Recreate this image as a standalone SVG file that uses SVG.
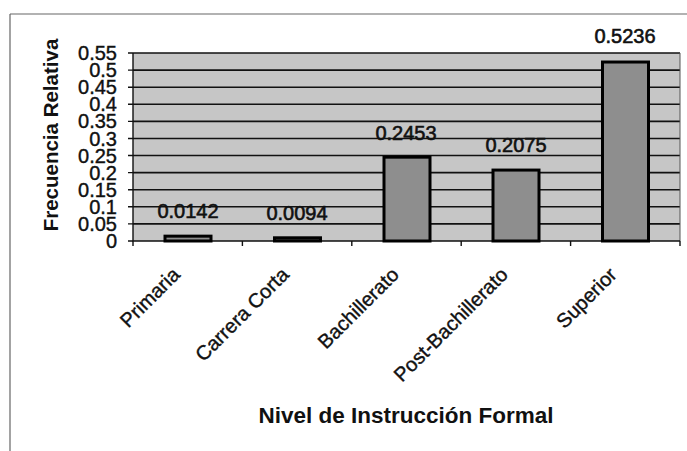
<svg xmlns="http://www.w3.org/2000/svg" width="687" height="451" viewBox="0 0 687 451">
<style>
.t{font-family:"Liberation Sans",Arial,sans-serif;fill:#111;}
.tick{font-size:20px;text-anchor:end;stroke:#111;stroke-width:0.4;}
.dl{font-size:20px;text-anchor:middle;stroke:#111;stroke-width:0.6;}
.cat{font-size:20px;text-anchor:end;stroke:#111;stroke-width:0.4;}
.ttl{font-weight:bold;text-anchor:middle;}
.grid{stroke:#111;stroke-width:1.6;}
.bar{fill:#8e8e8e;stroke:#000;stroke-width:3;}
.frame{stroke:#666;stroke-width:1.2;fill:none;}
</style>
<rect width="687" height="451" fill="#fff"/>
<g id="frame"><path class="frame" d="M10,14 H687 M10,14 V451"/></g>
<g id="plot">
<rect x="133" y="53" width="547" height="188" fill="#c6c6c6"/>
<g class="grid">
<line x1="133" y1="53" x2="680" y2="53"/>
<line x1="133" y1="70.09" x2="680" y2="70.09"/>
<line x1="133" y1="87.18" x2="680" y2="87.18"/>
<line x1="133" y1="104.27" x2="680" y2="104.27"/>
<line x1="133" y1="121.36" x2="680" y2="121.36"/>
<line x1="133" y1="138.45" x2="680" y2="138.45"/>
<line x1="133" y1="155.55" x2="680" y2="155.55"/>
<line x1="133" y1="172.64" x2="680" y2="172.64"/>
<line x1="133" y1="189.73" x2="680" y2="189.73"/>
<line x1="133" y1="206.82" x2="680" y2="206.82"/>
<line x1="133" y1="223.91" x2="680" y2="223.91"/>
</g>
<path d="M680,53 V241" stroke="#555" stroke-width="1" fill="none"/>
</g>
<g id="axes" stroke="#111" stroke-width="1.4" fill="none">
<path d="M133,53 V241 H680"/>
<path d="M128,53 H133 M128,70.09 H133 M128,87.18 H133 M128,104.27 H133 M128,121.36 H133 M128,138.45 H133 M128,155.55 H133 M128,172.64 H133 M128,189.73 H133 M128,206.82 H133 M128,223.91 H133 M128,241 H133"/>
<path d="M133,241 V246 M242.4,241 V246 M351.8,241 V246 M461.2,241 V246 M570.6,241 V246 M680,241 V246"/>
</g>
<g id="y-labels" class="t tick">
<text x="117" y="60">0.55</text>
<text x="117" y="77.1">0.5</text>
<text x="117" y="94.2">0.45</text>
<text x="117" y="111.3">0.4</text>
<text x="117" y="128.4">0.35</text>
<text x="117" y="145.5">0.3</text>
<text x="117" y="162.5">0.25</text>
<text x="117" y="179.6">0.2</text>
<text x="117" y="196.7">0.15</text>
<text x="117" y="213.8">0.1</text>
<text x="117" y="230.9">0.05</text>
<text x="117" y="248">0</text>
</g>
<g id="bar-primaria"><rect class="bar" x="165" y="236.15" width="46" height="4.85"/><text class="t dl" x="188" y="218">0.0142</text></g>
<g id="bar-carrera-corta"><rect class="bar" x="274.5" y="237.79" width="46" height="3.21"/><text class="t dl" x="297" y="220">0.0094</text></g>
<g id="bar-bachillerato"><rect class="bar" x="384" y="157.15" width="46" height="83.85"/><text class="t dl" x="406" y="140">0.2453</text></g>
<g id="bar-post-bachillerato"><rect class="bar" x="493" y="170.07" width="46" height="70.93"/><text class="t dl" x="516" y="152">0.2075</text></g>
<g id="bar-superior"><rect class="bar" x="602.5" y="62.02" width="46" height="178.98"/><text class="t dl" x="625" y="43">0.5236</text></g>
<g id="x-labels" class="t cat">
<text transform="translate(181,276) rotate(-45)">Primaria</text>
<text transform="translate(290,276) rotate(-45)">Carrera Corta</text>
<text transform="translate(400,276) rotate(-45)">Bachillerato</text>
<text transform="translate(509,276) rotate(-45)">Post-Bachillerato</text>
<text transform="translate(618,276) rotate(-45)">Superior</text>
</g>
<g id="titles" class="t ttl">
<text x="406" y="423" font-size="22.5">Nivel de Instrucción Formal</text>
<text transform="translate(58,135) rotate(-90)" font-size="20.5">Frecuencia Relativa</text>
</g>
</svg>
